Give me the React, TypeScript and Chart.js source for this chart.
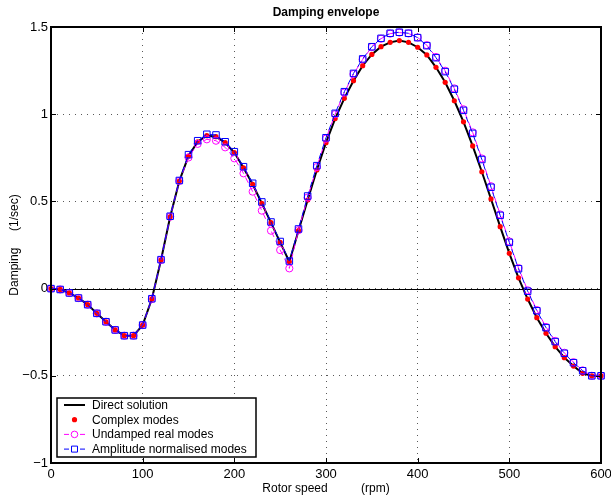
import { useEffect, useRef } from "react";
import { Chart, registerables } from "chart.js";

Chart.register(...registerables);

const FONT = "'Liberation Sans', Arial, Helvetica, sans-serif";

// Rotor speed samples (rpm)
const rpm = [
  0, 10, 20, 30, 40, 50, 60, 70, 80, 90,
  100, 110, 120, 130, 140, 150, 160, 170, 180, 190,
  200, 210, 220, 230, 240, 250, 260, 270, 280, 290,
  300, 310, 320, 330, 340, 350, 360, 370, 380, 390,
  400, 410, 420, 430, 440, 450, 460, 470, 480, 490,
  500, 510, 520, 530, 540, 550, 560, 570, 580, 590,
  600,
];

// Damping (1/sec) from the direct solution
const directSolution = [
  0, -0.005, -0.025, -0.054, -0.092, -0.142, -0.19, -0.237, -0.27, -0.27,
  -0.209, -0.06, 0.164, 0.412, 0.617, 0.76, 0.842, 0.877, 0.871, 0.837,
  0.78, 0.693, 0.598, 0.489, 0.378, 0.265, 0.154, 0.332, 0.508, 0.68,
  0.837, 0.975, 1.091, 1.192, 1.278, 1.343, 1.387, 1.412, 1.422, 1.412,
  1.384, 1.34, 1.269, 1.183, 1.077, 0.956, 0.818, 0.67, 0.514, 0.355,
  0.202, 0.062, -0.06, -0.167, -0.256, -0.333, -0.396, -0.444, -0.486, -0.5,
  -0.5,
];

// Damping from complex modes
const complexModes = [
  0, -0.005, -0.025, -0.054, -0.092, -0.142, -0.19, -0.237, -0.27, -0.27,
  -0.209, -0.06, 0.164, 0.412, 0.617, 0.76, 0.842, 0.877, 0.871, 0.837,
  0.78, 0.693, 0.598, 0.489, 0.378, 0.265, 0.154, 0.332, 0.508, 0.68,
  0.837, 0.975, 1.091, 1.192, 1.278, 1.343, 1.387, 1.412, 1.422, 1.412,
  1.384, 1.34, 1.269, 1.183, 1.077, 0.956, 0.818, 0.67, 0.514, 0.355,
  0.202, 0.062, -0.06, -0.167, -0.256, -0.333, -0.396, -0.444, -0.486, -0.5,
  -0.5,
];

// Damping from undamped real modes
const undampedRealModes = [
  0, -0.005, -0.025, -0.054, -0.092, -0.142, -0.19, -0.237, -0.27, -0.27,
  -0.209, -0.06, 0.164, 0.412, 0.617, 0.752, 0.83, 0.856, 0.848, 0.81,
  0.747, 0.661, 0.556, 0.447, 0.332, 0.221, 0.116, 0.335, 0.522, 0.697,
  0.86, 1.0, 1.124, 1.23, 1.314, 1.385, 1.433, 1.462, 1.468, 1.463,
  1.44, 1.396, 1.328, 1.249, 1.148, 1.028, 0.896, 0.746, 0.587, 0.425,
  0.27, 0.118, -0.01, -0.123, -0.22, -0.3, -0.368, -0.422, -0.469, -0.5,
  -0.5,
];

// Damping from amplitude normalised modes
const amplitudeNormalisedModes = [
  0, -0.005, -0.025, -0.054, -0.092, -0.142, -0.19, -0.237, -0.27, -0.27,
  -0.209, -0.058, 0.166, 0.415, 0.62, 0.768, 0.848, 0.885, 0.881, 0.842,
  0.785, 0.699, 0.604, 0.497, 0.382, 0.27, 0.158, 0.342, 0.531, 0.705,
  0.865, 1.005, 1.129, 1.234, 1.317, 1.387, 1.435, 1.464, 1.47, 1.464,
  1.439, 1.393, 1.324, 1.244, 1.143, 1.022, 0.89, 0.74, 0.581, 0.42,
  0.265, 0.114, -0.015, -0.127, -0.224, -0.304, -0.371, -0.425, -0.471, -0.5,
  -0.5,
];

const xTickStep = 100;
const yTickStep = 0.5;

const toPoints = (ys: number[]) => rpm.map((x, i) => ({ x, y: ys[i] }));

const legendEntries = [
  { label: "Direct solution", kind: "solid" },
  { label: "Complex modes", kind: "dot" },
  { label: "Undamped real modes", kind: "circle" },
  { label: "Amplitude normalised modes", kind: "square" },
];

const axesPlugin = {
  id: "matlabAxes",
  beforeDatasetsDraw(chart: any) {
    const { ctx, chartArea: a, scales } = chart;
    const y0 = Math.round(scales.y.getPixelForValue(0)) + 0.5;
    ctx.save();
    ctx.strokeStyle = "#000";
    ctx.lineWidth = 1;
    ctx.beginPath();
    ctx.moveTo(a.left, y0);
    ctx.lineTo(a.right, y0);
    ctx.stroke();
    ctx.restore();
  },
  afterDraw(chart: any) {
    const { ctx, chartArea: a, scales } = chart;
    ctx.save();
    ctx.strokeStyle = "#000";
    ctx.lineWidth = 1;
    // inward tick marks
    const tl = 5;
    ctx.beginPath();
    for (const t of scales.x.ticks) {
      const px = Math.round(scales.x.getPixelForValue(t.value)) + 0.5;
      ctx.moveTo(px, a.bottom);
      ctx.lineTo(px, a.bottom - tl);
      ctx.moveTo(px, a.top);
      ctx.lineTo(px, a.top + tl);
    }
    for (const t of scales.y.ticks) {
      const py = Math.round(scales.y.getPixelForValue(t.value)) + 0.5;
      ctx.moveTo(a.left, py);
      ctx.lineTo(a.left + tl, py);
      ctx.moveTo(a.right, py);
      ctx.lineTo(a.right - tl, py);
    }
    ctx.stroke();
    // axes box
    ctx.lineWidth = 2;
    ctx.strokeRect(a.left, a.top, a.right - a.left, a.bottom - a.top);

    // legend box
    const bx = a.left + 6;
    const bw = 199;
    const bh = 59;
    const by = a.bottom - 6 - bh;
    ctx.fillStyle = "#fff";
    ctx.fillRect(bx, by, bw, bh);
    ctx.lineWidth = 1.5;
    ctx.strokeRect(bx, by, bw, bh);
    ctx.font = `12px ${FONT}`;
    ctx.textBaseline = "middle";
    ctx.textAlign = "left";
    legendEntries.forEach((e, i) => {
      const cy = by + 7 + i * 14.7;
      const x0 = bx + 7;
      const x1 = bx + 28;
      const xm = (x0 + x1) / 2;
      if (e.kind === "solid") {
        ctx.strokeStyle = "#000";
        ctx.lineWidth = 2;
        ctx.beginPath();
        ctx.moveTo(x0, cy);
        ctx.lineTo(x1, cy);
        ctx.stroke();
      } else if (e.kind === "dot") {
        ctx.fillStyle = "#ff0000";
        ctx.beginPath();
        ctx.arc(xm, cy, 2.6, 0, Math.PI * 2);
        ctx.fill();
      } else {
        const c = e.kind === "circle" ? "#ff00ff" : "#0000ff";
        ctx.strokeStyle = c;
        ctx.lineWidth = 1;
        ctx.beginPath();
        ctx.moveTo(x0, cy);
        ctx.lineTo(x0 + 5, cy);
        ctx.moveTo(x1 - 5, cy);
        ctx.lineTo(x1, cy);
        ctx.stroke();
        ctx.beginPath();
        if (e.kind === "circle") ctx.arc(xm, cy, 3.3, 0, Math.PI * 2);
        else ctx.rect(xm - 3, cy - 3, 6, 6);
        ctx.stroke();
      }
      ctx.fillStyle = "#000";
      ctx.fillText(e.label, bx + 35, cy + 0.5);
    });
    ctx.restore();
  },
};

export default function App() {
  const ref = useRef<HTMLCanvasElement>(null);

  useEffect(() => {
    const canvas = ref.current;
    if (!canvas) return;
    const chart = new Chart(canvas, {
      type: "scatter",
      data: {
        datasets: [
          {
            label: "Amplitude normalised modes",
            data: toPoints(amplitudeNormalisedModes),
            showLine: true,
            borderColor: "#0000ff",
            borderWidth: 1,
            borderDash: [6, 4],
            pointStyle: "rect",
            pointRadius: 4.6,
            pointBorderColor: "#0000ff",
            pointBackgroundColor: "rgba(0,0,0,0)",
            pointBorderWidth: 1,
            clip: false,
            order: 0,
          },
          {
            label: "Undamped real modes",
            data: toPoints(undampedRealModes),
            showLine: true,
            borderColor: "#ff00ff",
            borderWidth: 1,
            borderDash: [6, 4],
            pointStyle: "circle",
            pointRadius: 3.6,
            pointBorderColor: "#ff00ff",
            pointBackgroundColor: "rgba(0,0,0,0)",
            pointBorderWidth: 1,
            clip: false,
            order: 1,
          },
          {
            label: "Complex modes",
            data: toPoints(complexModes),
            showLine: false,
            pointStyle: "circle",
            pointRadius: 2.6,
            pointBackgroundColor: "#ff0000",
            pointBorderColor: "#ff0000",
            pointBorderWidth: 0,
            clip: false,
            order: 2,
          },
          {
            label: "Direct solution",
            data: toPoints(directSolution),
            showLine: true,
            borderColor: "#000000",
            borderWidth: 2,
            pointRadius: 0,
            clip: false,
            order: 3,
          },
        ],
      },
      options: {
        animation: false,
        responsive: false,
        devicePixelRatio: 1,
        events: [],
        layout: { padding: { top: 0, left: 0, right: 10, bottom: 0 } },
        plugins: {
          legend: { display: false },
          tooltip: { enabled: false },
          title: {
            display: true,
            text: "Damping envelope",
            color: "#000",
            fullSize: false,
            font: { family: FONT, size: 12, weight: "bold" },
            padding: { top: 5, bottom: 7.6 },
          },
        },
        scales: {
          x: {
            type: "linear",
            min: 0,
            max: 600,
            ticks: {
              stepSize: xTickStep,
              color: "#000",
              font: { family: FONT, size: 13 },
              padding: 4,
              maxRotation: 0,
              autoSkip: false,
            },
            grid: { color: "rgba(0,0,0,0.65)", drawTicks: false, lineWidth: 1 },
            border: { display: false, dash: [1, 5] },
            title: {
              display: true,
              text: "Rotor speed          (rpm)",
              color: "#000",
              font: { family: FONT, size: 12 },
              padding: 1,
            },
            afterFit: (s: any) => {
              s.height = 34;
              s.paddingLeft = 0;
              s.paddingRight = 0;
            },
          },
          y: {
            type: "linear",
            min: -1,
            max: 1.5,
            ticks: {
              stepSize: yTickStep,
              color: "#000",
              font: { family: FONT, size: 13 },
              padding: 3,
              callback: (v: any) => (v < 0 ? "\u2212" + Math.abs(v) : String(v)),
            },
            grid: { color: "rgba(0,0,0,0.65)", drawTicks: false, lineWidth: 1 },
            border: { display: false, dash: [1, 5] },
            title: {
              display: true,
              text: "Damping     (1/sec)",
              color: "#000",
              font: { family: FONT, size: 12 },
              padding: 7,
            },
            afterFit: (s: any) => {
              s.width = 51;
              s.paddingTop = 0;
              s.paddingBottom = 0;
            },
          },
        },
      } as any,
      plugins: [axesPlugin],
    });
    return () => chart.destroy();
  }, []);

  return (
    <div style={{ position: "absolute", left: 0, top: 0, width: 611, height: 497, background: "#fff" }}>
      <canvas ref={ref} width={611} height={497} style={{ display: "block", width: 611, height: 497 }} />
    </div>
  );
}
